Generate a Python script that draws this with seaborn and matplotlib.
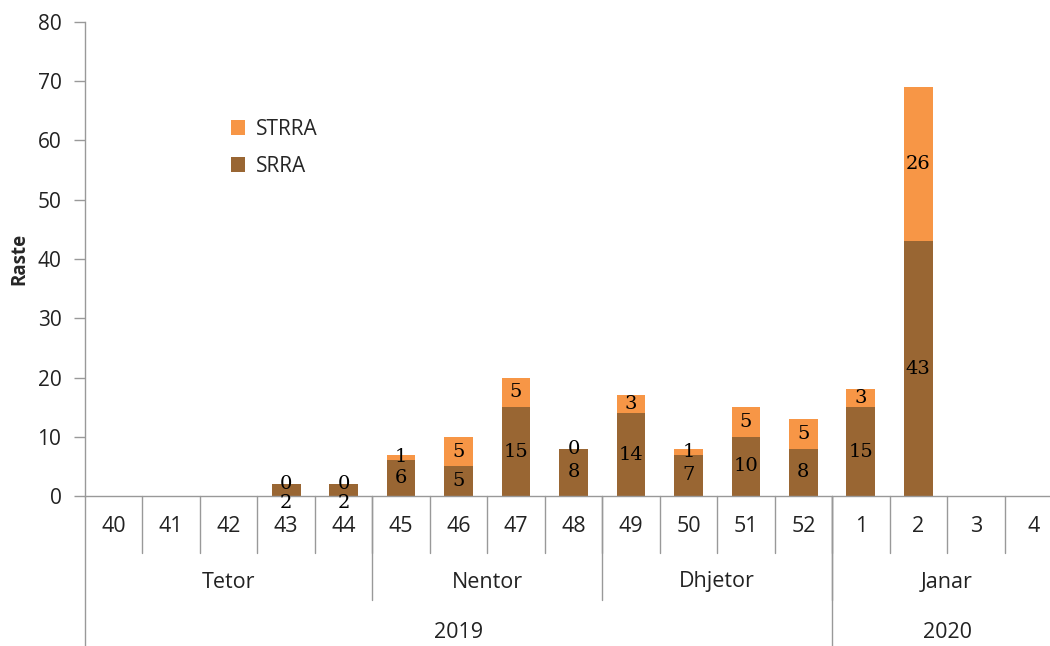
import pandas as pd
import seaborn as sns
import matplotlib.pyplot as plt
import matplotlib.transforms as mtransforms

javet = ["40", "41", "42", "43", "44", "45", "46", "47", "48", "49", "50", "51", "52", "1", "2", "3", "4"]
srra = [0, 0, 0, 2, 2, 6, 5, 15, 8, 14, 7, 10, 8, 15, 43, 0, 0]
strra = [0, 0, 0, 0, 0, 1, 5, 5, 0, 3, 1, 5, 5, 3, 26, 0, 0]
muajt = ["Tetor", "Nentor", "Dhjetor", "Janar"]
muaj_javet = [5, 4, 4, 4]
vitet = ["2019", "2020"]
vit_javet = [13, 4]

# weeks with no data get no labels
ka_te_dhena = [i in range(3, 15) for i in range(len(javet))]

df = pd.DataFrame({"java": javet, "SRRA": srra, "STRRA": strra})
df["total"] = df["SRRA"] + df["STRRA"]

sns.set_style("white")
plt.rcParams["font.family"] = ["Open Sans", "DejaVu Sans"]

fig = plt.figure(figsize=(10.5, 6.46), dpi=100)
ax = fig.add_axes([85 / 1050, 1 - 496 / 646, 977 / 1050, 474 / 646])

portokalli = "#F79646"
kafe = "#996633"

sns.barplot(data=df, x="java", y="total", order=javet, color=portokalli,
            width=0.5, ax=ax, label="STRRA", saturation=1, linewidth=0)
sns.barplot(data=df, x="java", y="SRRA", order=javet, color=kafe,
            width=0.5, ax=ax, label="SRRA", saturation=1, linewidth=0)

ax.set_ylim(0, 80)
ax.set_yticks(range(0, 81, 10))
ax.set_xlim(-0.5, len(javet) - 0.5)
ax.tick_params(axis="y", labelsize=15, colors="#222222", length=8, width=1, color="#999999", left=True, pad=9)
ax.tick_params(axis="x", bottom=False, labelbottom=False)
ax.set_xlabel("")
ax.set_ylabel("Raste", fontsize=13.5, fontweight="bold", labelpad=6)

for s in ["top", "right"]:
    ax.spines[s].set_visible(False)
for s in ["left", "bottom"]:
    ax.spines[s].set_color("#999999")
    ax.spines[s].set_linewidth(1)

# value labels
for i in range(len(javet)):
    if not ka_te_dhena[i]:
        continue
    y_poshte = srra[i] / 2 if srra[i] >= 3 else -1.2
    ax.text(i, y_poshte, str(srra[i]), ha="center", va="center",
            fontsize=14, family="DejaVu Serif", color="black")
    ax.text(i, srra[i] + strra[i] / 2, str(strra[i]), ha="center", va="center",
            fontsize=14, family="DejaVu Serif", color="black")

# multi-level category axis below plot
tr = mtransforms.blended_transform_factory(ax.transData, ax.transAxes)
px = 474 / 646 * 6.46 * 100  # axes height in px
def ay(pix):
    return -pix / px

vija = dict(color="#999999", lw=1, clip_on=False, transform=tr)
for i, j in enumerate(javet):
    ax.text(i, ay(30), j, ha="center", va="center", fontsize=15.5, color="#222222", transform=tr)
    if i > 0:
        ax.plot([i - 0.5, i - 0.5], [0, ay(57)], **vija)

start = 0
for m, n in zip(muajt, muaj_javet):
    ax.text(start + n / 2 - 0.5, ay(86), m, ha="center", va="center", fontsize=15.5, color="#222222", transform=tr)
    if start > 0:
        ax.plot([start - 0.5, start - 0.5], [0, ay(104)], **vija)
    start += n

start = 0
for v, n in zip(vitet, vit_javet):
    ax.text(start + n / 2 - 0.5, ay(137), v, ha="center", va="center", fontsize=15.5, color="#222222", transform=tr)
    if start > 0:
        ax.plot([start - 0.5, start - 0.5], [0, ay(160)], **vija)
    start += n
ax.plot([-0.5, -0.5], [0, ay(160)], **vija)

handles, labels = ax.get_legend_handles_labels()
ax.legend(handles, labels, loc="upper left", bbox_to_anchor=(0.13, 0.835), frameon=False,
          fontsize=15, handlelength=0.7, handleheight=0.7, labelspacing=0.75, handletextpad=0.5)

fig.savefig("out.png", dpi=100)
